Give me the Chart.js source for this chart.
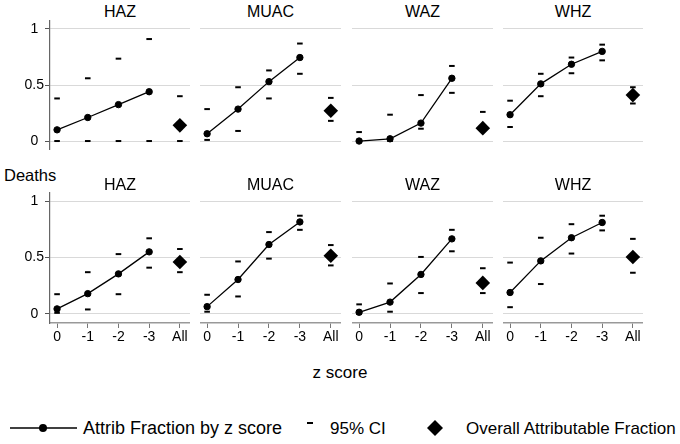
<!DOCTYPE html>
<html>
<head>
<meta charset="utf-8">
<script src="https://cdn.jsdelivr.net/npm/chart.js@4"></script>
<style>
body{margin:0;background:#fff;font-family:"Liberation Sans",Arial,sans-serif;color:#000}
#wrap{position:relative;width:680px;height:444px;overflow:hidden}
.panel{position:absolute}
.lbl{position:absolute;white-space:nowrap;line-height:1;transform:translateY(-50%)}
.ctr{transform:translate(-50%,-50%)}
svg{position:absolute}
</style>
</head>
<body>
<div id="wrap">
<div class="lbl" style="left:4px;top:175px;font-size:16.5px">Deaths</div>
<div class="lbl ctr" style="left:340px;top:372px;font-size:17px">z score</div>

<svg width="90" height="20" style="left:0;top:418px"><line x1="10" y1="10" x2="77" y2="10" stroke="#000" stroke-width="1.3"/><circle cx="43" cy="10" r="4" fill="#000"/></svg>
<div class="lbl" style="left:83px;top:428px;font-size:18px">Attrib Fraction by z score</div>
<svg width="20" height="20" style="left:300px;top:413px"><line x1="7" y1="10" x2="13" y2="10" stroke="#000" stroke-width="2"/></svg>
<div class="lbl" style="left:330px;top:428px;font-size:17px">95% CI</div>
<svg width="20" height="20" style="left:425px;top:418px"><polygon points="10,2 18,10 10,18 2,10" fill="#000"/></svg>
<div class="lbl" style="left:466px;top:428px;font-size:17px">Overall Attributable Fraction</div>
</div>
<script>

const zLabels = ["0","-1","-2","-3","All"]
const panelNames = ["HAZ","MUAC","WAZ","WHZ"]

/* ---------------- TOP ROW ---------------- */

const topAF = [
[0.10,0.21,0.325,0.44],
[0.065,0.285,0.53,0.745],
[0.0,0.02,0.16,0.56],
[0.235,0.51,0.685,0.80]
]
const topOverall = [0.14,0.27,0.115,0.41]
const topLow = [
[0,0,0,0,0],
[0.01,0.09,0.38,0.60,0.18],
[0,0,0.11,0.43,null],
[0.125,0.40,0.605,0.72,0.335]
]
const topHigh = [
[0.38,0.56,0.735,0.91,0.40],
[0.285,0.48,0.63,0.87,0.385],
[0.08,0.235,0.41,0.67,0.26],
[0.36,0.60,0.745,0.86,0.48]
]

/* ---------------- DEATHS ROW ---------------- */

const deathAF = [
[0.045,0.18,0.355,0.55],
[0.065,0.305,0.615,0.815],
[0.015,0.105,0.35,0.665],
[0.19,0.47,0.675,0.81]
]
const deathOverall = [0.46,0.515,0.275,0.505]
const deathLow = [
[0.01,0.04,0.175,0.41,0.37],
[0.02,0.155,0.49,0.745,0.43],
[0,0.02,0.185,0.555,0.185],
[0.06,0.265,0.535,0.74,0.365]
]
const deathHigh = [
[0.175,0.37,0.53,0.67,0.575],
[0.17,0.465,0.725,0.87,0.61],
[0.085,0.27,0.505,0.745,0.405],
[0.455,0.675,0.795,0.87,0.665]
]

/* ---------------- LAYOUT ---------------- */

const colLeft = [0,200,352,503]
const colWidth = [190,141,141,140]
const rowTop = [20,192]
const plotHeight = [130,131]
const titleY = [12,185]
const FONT = "'Liberation Sans', Arial, sans-serif"

const wrap = document.getElementById("wrap")

function makePanel(row,col,af,low,high,overall){

const bottom = row === 1
const first = col === 0

const div = document.createElement("div")
div.className = "panel"
div.style.left = colLeft[col] + "px"
div.style.top = rowTop[row] + "px"
const canvas = document.createElement("canvas")
canvas.width = colWidth[col]
canvas.height = plotHeight[row] + (bottom ? 26 : 0)
canvas.style.width = canvas.width + "px"
canvas.style.height = canvas.height + "px"
div.appendChild(canvas)
wrap.appendChild(div)

const title = document.createElement("div")
title.className = "lbl ctr"
title.style.fontSize = "16px"
title.style.left = (colLeft[col] + (first ? 50 : 0) + (colWidth[col] - (first ? 50 : 0)) / 2) + "px"
title.style.top = titleY[row] + "px"
title.textContent = panelNames[col]
wrap.appendChild(title)

const ciPoints = []
low.forEach((v,i)=>{ if(v !== null) ciPoints.push({x:i,y:v}) })
high.forEach((v,i)=>{ if(v !== null) ciPoints.push({x:i,y:v}) })

new Chart(canvas,{
type:"scatter",
data:{
datasets:[
{
data:af.map((v,i)=>({x:i,y:v})),
showLine:true,
borderColor:"#000",
borderWidth:1.3,
pointRadius:3.2,
pointBorderWidth:1,
pointBackgroundColor:"#000",
pointBorderColor:"#000"
},
{
data:ciPoints,
pointStyle:"line",
pointRadius:2.8,
pointBorderWidth:2,
pointBorderColor:"#000",
showLine:false
},
{
data:[{x:4,y:overall}],
pointStyle:"rectRot",
pointRadius:7.3,
pointBackgroundColor:"#000",
pointBorderColor:"#000",
pointBorderWidth:0,
showLine:false
}
]
},
options:{
responsive:false,
animation:false,
layout:{padding:0,autoPadding:false},
plugins:{legend:{display:false},tooltip:{enabled:false}},
scales:{
x:{
type:"linear",
min:-0.23,
max:4.33,
display:bottom,
afterBuildTicks:s=>{ s.ticks = [0,1,2,3,4].map(v=>({value:v})) },
afterFit:s=>{ s.height = bottom ? 26 : 0; s.paddingLeft = 0; s.paddingRight = 0 },
ticks:{
callback:v=>zLabels[v],
color:"#000",
font:{family:FONT,size:14},
padding:1,
maxRotation:0,
autoSkip:false
},
grid:{drawOnChartArea:false,tickLength:5,tickColor:"#777",tickWidth:1},
border:{color:"#999",width:1.5}
},
y:{
min:-0.08,
max:1.08,
afterBuildTicks:s=>{ s.ticks = [0,0.5,1].map(v=>({value:v})) },
afterFit:s=>{ s.width = first ? 50 : 0; s.paddingTop = 0; s.paddingBottom = 0 },
ticks:{
display:first,
color:"#000",
font:{family:FONT,size:14},
crossAlign:"center",
padding:1,
callback:v=>String(v)
},
grid:{color:"#d9d9d9",drawTicks:first,tickLength:5,tickColor:"#555"},
border:{display:first,color:"#666",width:1.2}
}
}
}
})

}

for(let c=0;c<4;c++){
makePanel(0,c,topAF[c],topLow[c],topHigh[c],topOverall[c])
makePanel(1,c,deathAF[c],deathLow[c],deathHigh[c],deathOverall[c])
}

</script>
</body>
</html>
